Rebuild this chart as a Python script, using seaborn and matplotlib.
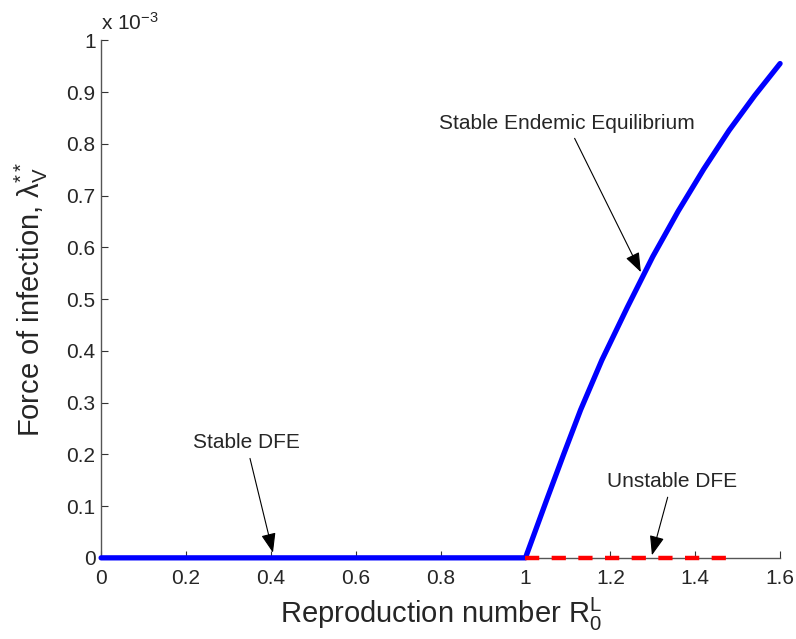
import matplotlib
matplotlib.use("Agg")
import matplotlib.pyplot as plt
from matplotlib.ticker import FuncFormatter
import seaborn as sns

# stable branch: DFE for R0 < 1, endemic equilibrium for R0 > 1 (lambda in units of 1e-3)
R0_STABLE = [0.0, 1.0, 1.05, 1.09, 1.13, 1.18, 1.24, 1.30, 1.36, 1.42, 1.48, 1.54, 1.6]
LAM_STABLE = [0.0, 0.0, 0.112, 0.200, 0.286, 0.382, 0.484, 0.582, 0.670, 0.751, 0.826, 0.893, 0.955]
# unstable DFE branch
R0_UNSTABLE = [1.0, 1.5]
LAM_UNSTABLE = [0.0, 0.0]

X_TICKS = [0, 0.2, 0.4, 0.6, 0.8, 1.0, 1.2, 1.4, 1.6]
Y_TICKS = [0, 0.1, 0.2, 0.3, 0.4, 0.5, 0.6, 0.7, 0.8, 0.9, 1.0]

sns.set_style("white")
plt.rcParams["font.family"] = ["Liberation Sans", "DejaVu Sans"]
plt.rcParams["mathtext.fontset"] = "custom"
plt.rcParams["mathtext.rm"] = "Liberation Sans"
plt.rcParams["mathtext.it"] = "Liberation Sans"
plt.rcParams["mathtext.sf"] = "Liberation Sans"

fig = plt.figure(figsize=(7.96, 6.39), dpi=100)
ax = fig.add_axes([0.127, 0.127, 0.853, 0.810])

sns.lineplot(x=R0_STABLE, y=LAM_STABLE, color="#0000ff", lw=3.8, sort=False,
             ax=ax, clip_on=False, zorder=3)
sns.lineplot(x=R0_UNSTABLE, y=LAM_UNSTABLE, color="#ff0000", lw=3.2,
             linestyle=(0, (3.2, 2.8)), ax=ax, clip_on=False, zorder=4)

ax.set_xlim(0, 1.6)
ax.set_ylim(0, 1.0)
ax.set_xticks(X_TICKS)
ax.set_yticks(Y_TICKS)
fmt = FuncFormatter(lambda v, p: ("%g" % round(v, 2)))
ax.xaxis.set_major_formatter(fmt)
ax.yaxis.set_major_formatter(fmt)

for side in ["top", "right"]:
    ax.spines[side].set_visible(False)
for side in ["left", "bottom"]:
    ax.spines[side].set_color("#555555")
    ax.spines[side].set_linewidth(1.0)
ax.tick_params(direction="in", length=5, width=0.8, color="#333333",
               labelsize=15, left=True, bottom=True)
ax.tick_params(axis="x", pad=8)
ax.tick_params(axis="y", pad=4)

ax.set_xlabel(r"Reproduction number $\mathregular{R_0^L}$", fontsize=21, labelpad=6)
ax.set_ylabel(r"Force of infection, $\mathregular{\lambda_V^{**}}$", fontsize=21, labelpad=12)
ax.text(0.0, 1.012, r"x 10$^{\mathregular{-3}}$", transform=ax.transAxes,
        fontsize=15, ha="left", va="bottom")

arrow = dict(arrowstyle="-|>,head_length=0.8,head_width=0.3", color="black",
             lw=0.8, shrinkA=2, shrinkB=0)
ax.annotate("Stable DFE", xy=(0.405, 0.01), xytext=(0.342, 0.222),
            fontsize=15, ha="center", va="center", arrowprops=arrow)
ax.annotate("Unstable DFE", xy=(1.298, 0.005), xytext=(1.345, 0.147),
            fontsize=15, ha="center", va="center", arrowprops=arrow)
ax.annotate("Stable Endemic Equilibrium", xy=(1.272, 0.552), xytext=(1.098, 0.84),
            fontsize=15, ha="center", va="center", arrowprops=arrow)

fig.savefig("out.png", dpi=100)
